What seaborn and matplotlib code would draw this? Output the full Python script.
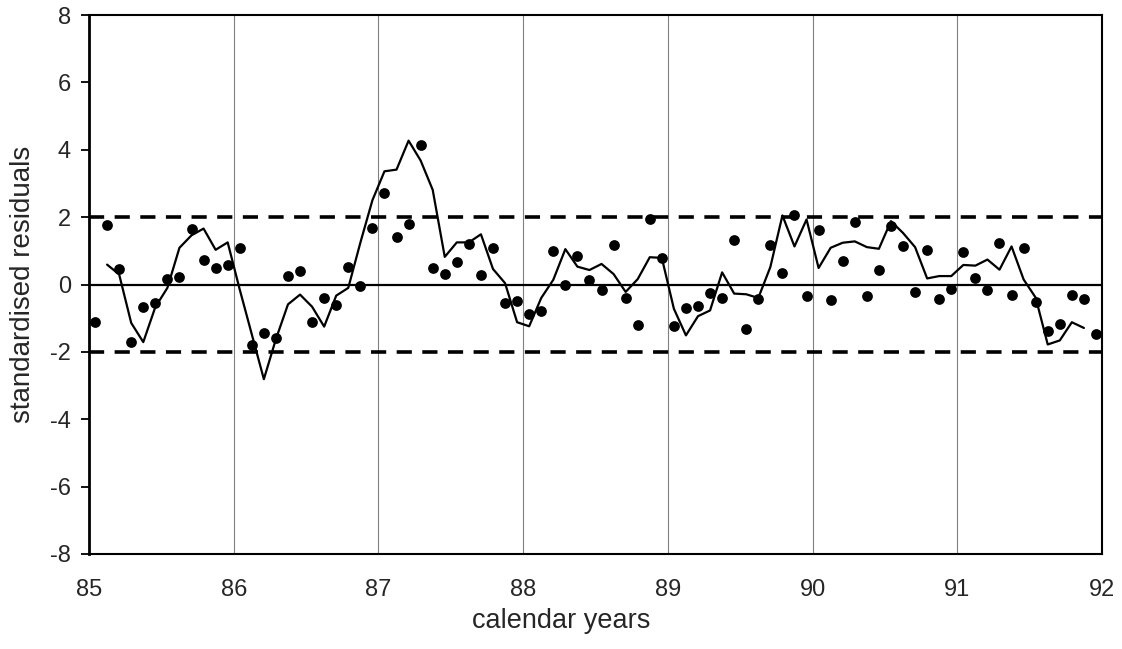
import numpy as np
import pandas as pd
import matplotlib
matplotlib.use("Agg")
import matplotlib.pyplot as plt
import seaborn as sns

# ---- data ----
start_year = 85
residuals = [-1.12, 1.76, 0.46, -1.71, -0.67, -0.55, 0.17, 0.21, 1.64, 0.73, 0.49, 0.57,
             1.09, -1.80, -1.45, -1.58, 0.24, 0.40, -1.12, -0.41, -0.62, 0.52, -0.03, 1.69,
             2.73, 1.41, 1.81, 4.15, 0.48, 0.31, 0.66, 1.21, 0.29, 1.09, -0.54, -0.50,
             -0.87, -0.78, 0.99, -0.02, 0.85, 0.14, -0.16, 1.18, -0.39, -1.21, 1.93, 0.78,
             -1.22, -0.70, -0.65, -0.24, -0.40, 1.31, -1.32, -0.44, 1.18, 0.34, 2.05, -0.33,
             1.62, -0.46, 0.71, 1.87, -0.33, 0.44, 1.73, 1.13, -0.23, 1.02, -0.44, -0.14,
             0.95, 0.20, -0.15, 1.24, -0.31, 1.09, -0.53, -1.37, -1.16, -0.30, -0.42, -1.46]
# smoothed line, months 1..82
smoothed = [0.59, 0.30, -1.14, -1.71, -0.67, -0.10, 1.09, 1.46, 1.66, 1.03, 1.25,
            -0.15, -1.48, -2.81, -1.62, -0.59, -0.30, -0.66, -1.25, -0.33, -0.10, 1.24, 2.50,
            3.36, 3.41, 4.27, 3.68, 2.81, 0.82, 1.25, 1.25, 1.49, 0.46, 0.04, -1.12,
            -1.24, -0.40, 0.14, 1.05, 0.53, 0.43, 0.61, 0.31, -0.22, 0.16, 0.81, 0.79,
            -0.72, -1.51, -0.94, -0.77, 0.36, -0.27, -0.29, -0.40, 0.52, 2.05, 1.13, 1.93,
            0.49, 1.09, 1.24, 1.28, 1.11, 1.06, 1.88, 1.53, 1.11, 0.18, 0.25, 0.25,
            0.58, 0.56, 0.74, 0.44, 1.13, 0.15, -0.39, -1.78, -1.66, -1.12, -1.29]
smooth_first_month = 1
band_levels = [-2, 2]
x_ticks = [85, 86, 87, 88, 89, 90, 91, 92]
y_ticks = [-8, -6, -4, -2, 0, 2, 4, 6, 8]
x_label = "calendar years"
y_label = "standardised residuals"

months = np.arange(len(residuals))
df_pts = pd.DataFrame({"t": start_year + (months + 0.5) / 12, "r": residuals})
m2 = np.arange(smooth_first_month, smooth_first_month + len(smoothed))
df_line = pd.DataFrame({"t": start_year + (m2 + 0.5) / 12, "s": smoothed})

sns.set_theme(style="white")
plt.rcParams["font.family"] = ["Liberation Sans", "DejaVu Sans"]

fig = plt.figure(figsize=(11.22, 6.49), dpi=100)
L, R, T, B = 89, 1102, 15, 554
ax = fig.add_axes([L / 1122, 1 - B / 649, (R - L) / 1122, (B - T) / 649])

# vertical grid lines
for xv in x_ticks[1:-1]:
    ax.axvline(xv, color="#808080", lw=0.8, zorder=1)
ax.axhline(0, color="black", lw=1.6, zorder=2)
for b in band_levels:
    ax.axhline(b, color="black", lw=2.6, dashes=(4.2, 2.9), zorder=2)

sns.lineplot(data=df_line, x="t", y="s", color="black", lw=1.6, ax=ax, zorder=3)
sns.scatterplot(data=df_pts, x="t", y="r", color="black", s=60, edgecolor="black",
                linewidth=0, ax=ax, zorder=4)

ax.set_xlim(x_ticks[0], x_ticks[-1])
ax.set_ylim(y_ticks[0], y_ticks[-1])
ax.set_xticks(x_ticks)
ax.set_yticks(y_ticks)
ax.set_xticklabels([str(v) for v in x_ticks])
ax.set_yticklabels([str(v) for v in y_ticks])
ax.tick_params(axis="y", direction="out", length=6, width=1.3, color="black",
               left=True, pad=7, labelsize=17)
ax.tick_params(axis="x", length=0, pad=18, labelsize=17)
for sp in ax.spines.values():
    sp.set_color("black")
    sp.set_linewidth(1.5)
ax.spines["left"].set_linewidth(2.0)

ax.set_xlabel(x_label, fontsize=19.5)
ax.set_ylabel(y_label, fontsize=20)
ax.xaxis.label.set_va("center")
ax.yaxis.label.set_va("center")
ax.xaxis.set_label_coords((561 - L) / (R - L), (B - 621) / (B - T))
ax.yaxis.set_label_coords((23 - L) / (R - L), 0.5)
ax.grid(False)

fig.savefig("out.png", dpi=100, facecolor="white")
